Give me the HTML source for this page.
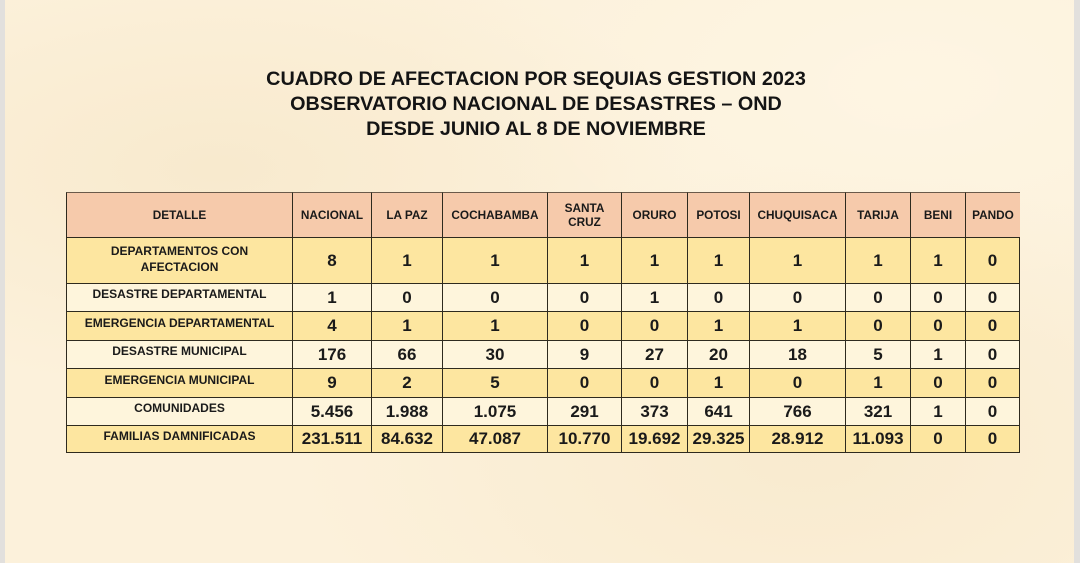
<!DOCTYPE html>
<html>
<head>
<meta charset="utf-8">
<style>
  html,body{margin:0;padding:0;}
  body{width:1080px;height:563px;position:relative;overflow:hidden;background:#fcf1dc;font-family:"Liberation Sans",Arial,sans-serif;color:#1a1a1a;}
  .bg{position:absolute;left:5px;top:0;width:1069px;height:563px;
    background:
      radial-gradient(ellipse at 20% 30%, rgba(245,228,195,0.55), rgba(0,0,0,0) 40%),
      radial-gradient(ellipse at 75% 80%, rgba(245,228,195,0.5), rgba(0,0,0,0) 45%),
      radial-gradient(ellipse at 85% 15%, rgba(255,248,232,0.6), rgba(0,0,0,0) 40%),
      #fcf1db;}
  .edgeL{position:absolute;left:0;top:0;width:5px;height:563px;background:#e2e0dd;}
  .edgeR{position:absolute;right:0;top:0;width:6px;height:563px;background:#e2e0dd;}
  .title{position:absolute;left:0;width:1072px;text-align:center;font-weight:bold;font-size:19.8px;line-height:25px;color:#141414;}
  .grid{position:absolute;left:66px;top:192px;display:grid;
    grid-template-columns:226px 79px 71px 105px 74px 66px 62px 96px 65px 55px 55px;
    grid-template-rows:45px 46px 28px 29px 28px 29px 28px 28px;}
  .c{box-sizing:border-box;border-left:1.5px solid #2e2a1e;border-top:1.5px solid #2e2a1e;display:flex;align-items:center;justify-content:center;text-align:center;font-weight:bold;}
  .h{background:#f6caab;font-size:11.8px;line-height:14px;border-top:1px solid #6a5a4a;}
  .h.first{border-left:1.5px solid #2e2a1e;}
  .y{background:#fde6a0;}
  .l{background:#fef5dc;}
  .lab{font-size:12px;line-height:15.5px;padding-bottom:5px;}
  .n{font-size:17px;}
  .r{border-right:1.5px solid #2e2a1e;}
  .b{border-bottom:1.5px solid #2e2a1e;}
</style>
</head>
<body>
<div class="bg"></div>
<div class="edgeL"></div>
<div class="edgeR"></div>

<div class="title" style="top:67px;">CUADRO DE AFECTACION POR SEQUIAS GESTION 2023</div>
<div class="title" style="top:92px;">OBSERVATORIO NACIONAL DE DESASTRES – OND</div>
<div class="title" style="top:117px;">DESDE JUNIO AL 8 DE NOVIEMBRE</div>

<div class="grid">
  <!-- header -->
  <div class="c h first">DETALLE</div>
  <div class="c h">NACIONAL</div>
  <div class="c h">LA PAZ</div>
  <div class="c h">COCHABAMBA</div>
  <div class="c h">SANTA<br>CRUZ</div>
  <div class="c h">ORURO</div>
  <div class="c h">POTOSI</div>
  <div class="c h">CHUQUISACA</div>
  <div class="c h">TARIJA</div>
  <div class="c h">BENI</div>
  <div class="c h">PANDO</div>

  <!-- row 1 -->
  <div class="c y lab" style="padding-bottom:2px;">DEPARTAMENTOS CON<br>AFECTACION</div>
  <div class="c y n">8</div>
  <div class="c y n">1</div>
  <div class="c y n">1</div>
  <div class="c y n">1</div>
  <div class="c y n">1</div>
  <div class="c y n">1</div>
  <div class="c y n">1</div>
  <div class="c y n">1</div>
  <div class="c y n">1</div>
  <div class="c y n r">0</div>

  <!-- row 2 -->
  <div class="c l lab">DESASTRE DEPARTAMENTAL</div>
  <div class="c l n">1</div>
  <div class="c l n">0</div>
  <div class="c l n">0</div>
  <div class="c l n">0</div>
  <div class="c l n">1</div>
  <div class="c l n">0</div>
  <div class="c l n">0</div>
  <div class="c l n">0</div>
  <div class="c l n">0</div>
  <div class="c l n r">0</div>

  <!-- row 3 -->
  <div class="c y lab">EMERGENCIA DEPARTAMENTAL</div>
  <div class="c y n">4</div>
  <div class="c y n">1</div>
  <div class="c y n">1</div>
  <div class="c y n">0</div>
  <div class="c y n">0</div>
  <div class="c y n">1</div>
  <div class="c y n">1</div>
  <div class="c y n">0</div>
  <div class="c y n">0</div>
  <div class="c y n r">0</div>

  <!-- row 4 -->
  <div class="c l lab">DESASTRE MUNICIPAL</div>
  <div class="c l n">176</div>
  <div class="c l n">66</div>
  <div class="c l n">30</div>
  <div class="c l n">9</div>
  <div class="c l n">27</div>
  <div class="c l n">20</div>
  <div class="c l n">18</div>
  <div class="c l n">5</div>
  <div class="c l n">1</div>
  <div class="c l n r">0</div>

  <!-- row 5 -->
  <div class="c y lab">EMERGENCIA MUNICIPAL</div>
  <div class="c y n">9</div>
  <div class="c y n">2</div>
  <div class="c y n">5</div>
  <div class="c y n">0</div>
  <div class="c y n">0</div>
  <div class="c y n">1</div>
  <div class="c y n">0</div>
  <div class="c y n">1</div>
  <div class="c y n">0</div>
  <div class="c y n r">0</div>

  <!-- row 6 -->
  <div class="c l lab">COMUNIDADES</div>
  <div class="c l n">5.456</div>
  <div class="c l n">1.988</div>
  <div class="c l n">1.075</div>
  <div class="c l n">291</div>
  <div class="c l n">373</div>
  <div class="c l n">641</div>
  <div class="c l n">766</div>
  <div class="c l n">321</div>
  <div class="c l n">1</div>
  <div class="c l n r">0</div>

  <!-- row 7 -->
  <div class="c y lab b">FAMILIAS DAMNIFICADAS</div>
  <div class="c y n b">231.511</div>
  <div class="c y n b">84.632</div>
  <div class="c y n b">47.087</div>
  <div class="c y n b">10.770</div>
  <div class="c y n b">19.692</div>
  <div class="c y n b">29.325</div>
  <div class="c y n b">28.912</div>
  <div class="c y n b">11.093</div>
  <div class="c y n b">0</div>
  <div class="c y n b r">0</div>
</div>
</body>
</html>
